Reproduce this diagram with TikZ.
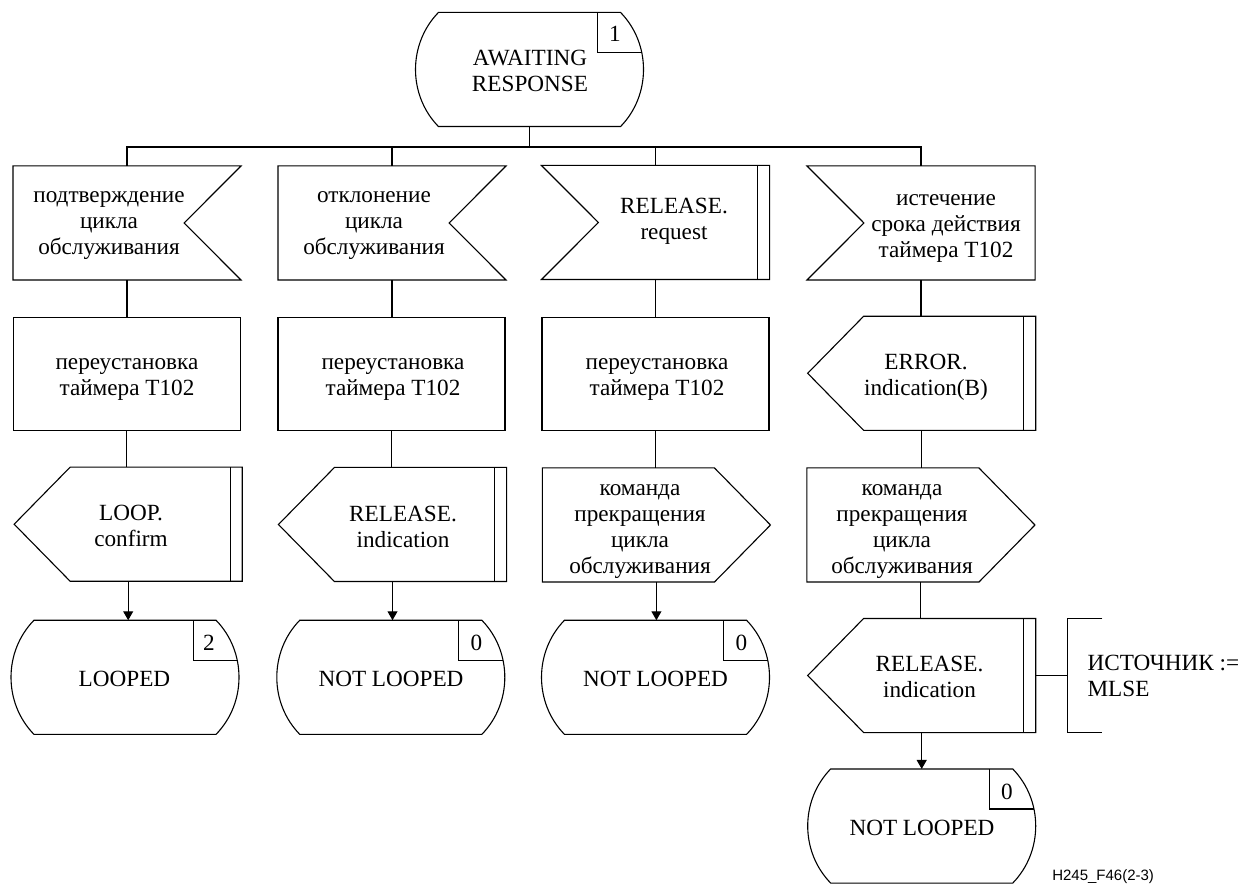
\documentclass[tikz,border=0pt]{standalone}
\usepackage{fontspec}
\setmainfont{Liberation Serif}
\newfontfamily\footfont{Liberation Sans}
\usetikzlibrary{calc,arrows.meta}
\newcommand\StateOutline[1]{%
  \draw ($(#1.north west)+(23,0)$) -- ($(#1.north east)+(-23,0)$)
    .. controls ($(#1.north east)+(7.6,31.4)$) and ($(#1.south east)+(7.6,-31.4)$) .. ($(#1.south east)+(-23,0)$)
    -- ($(#1.south west)+(23,0)$)
    .. controls ($(#1.south west)+(-7.6,-31.4)$) and ($(#1.north west)+(-7.6,31.4)$) .. ($(#1.north west)+(23,0)$) -- cycle;
  \draw ($(#1.north east)+(-46,0)$) -- ($(#1.north east)+(-46,40)$) -- ($(#1.north east)+(-1.7,40)$);}
\newcommand\InRight[1]{\draw (#1.north west) -- (#1.north east) -- ($(#1.east)+(-57,0)$) -- (#1.south east) -- (#1.south west) -- cycle;}
\newcommand\InLeft[1]{\draw (#1.north west) -- (#1.north east) -- (#1.south east) -- (#1.south west) -- ($(#1.west)+(57,0)$) -- cycle;}
\newcommand\OutLeft[1]{\draw ($(#1.north west)+(56,0)$) -- (#1.north east) -- (#1.south east) -- ($(#1.south west)+(56,0)$) -- (#1.west) -- cycle;}
\newcommand\OutRight[1]{\draw (#1.north west) -- ($(#1.north east)+(-56,0)$) -- (#1.east) -- ($(#1.south east)+(-56,0)$) -- (#1.south west) -- cycle;}
\newcommand\SideBar[1]{\draw ($(#1.north east)+(-12,0)$) -- ($(#1.south east)+(-12,0)$);}
\begin{document}
\begin{tikzpicture}[x=0.5pt,y=-0.5pt,line width=0.55pt,
  font=\fontsize{11.6pt}{13pt}\selectfont,
  shp/.style={draw=none,inner sep=0pt,minimum width=113.5pt,minimum height=56.5pt},
  txt/.style={align=center,inner sep=0pt},
  num/.style={inner sep=0pt},
  arr/.style={-{Triangle[length=4.5pt,width=5pt]}}]
\useasboundingbox (0,0) rectangle (1246,886);
\coordinate (bus) at (0,147);
% top state
\node[shp] (S0) at (529.5,69.5) {};
\StateOutline{S0}
\node[txt] (S0t) at (530,70.5) {AWAITING\\RESPONSE};
\node[num] (S0n) at (615,33.5) {1};
% row 1: inputs
\node[shp] (A1) at (127,223) {};
\InRight{A1}
\node[txt] (A1t) at (109,226) {подтверждение\\цикла\\обслуживания};
\node[shp] (A2) at (392,223) {};
\InRight{A2}
\node[txt] (A2t) at (374,226) {отклонение\\цикла\\обслуживания};
\node[shp] (A3) at (655.5,222.5) {};
\InLeft{A3}\SideBar{A3}
\node[txt] (A3t) at (674,221) {RELEASE.\\request};
\node[shp] (A4) at (921,223) {};
\InLeft{A4}
\node[txt] (A4t) at (946,229) {истечение\\срока действия\\таймера Т102};
% row 2
\node[shp,draw] (B1) at (126.7,374) {};
\node[txt] (B1t) at (127,380) {переустановка\\таймера Т102};
\node[shp,draw] (B2) at (391.5,374) {};
\node[txt] (B2t) at (393,380) {переустановка\\таймера Т102};
\node[shp,draw] (B3) at (655.5,374) {};
\node[txt] (B3t) at (657,380) {переустановка\\таймера Т102};
\node[shp] (B4) at (921.7,373.3) {};
\OutLeft{B4}\SideBar{B4}
\node[txt] (B4t) at (926,377) {ERROR.\\indication(B)};
% row 3
\node[shp] (C1) at (128.2,524.2) {};
\OutLeft{C1}\SideBar{C1}
\node[txt] (C1t) at (131,526) {LOOP.\\confirm};
\node[shp] (C2) at (392.5,524.5) {};
\OutLeft{C2}\SideBar{C2}
\node[txt] (C2t) at (403,527) {RELEASE.\\indication};
\node[shp] (C3) at (656.4,525) {};
\OutRight{C3}
\node[txt] (C3t) at (640,532) {команда\\прекращения\\цикла\\обслуживания};
\node[shp] (C4) at (920.9,525) {};
\OutRight{C4}
\node[txt] (C4t) at (902,532) {команда\\прекращения\\цикла\\обслуживания};
% row 4
\node[shp] (D1) at (125,677.3) {};
\StateOutline{D1}
\node[txt] (D1t) at (124.5,678.5) {LOOPED};
\node[num] (D1n) at (209,642.5) {2};
\node[shp] (D2) at (390.8,677.3) {};
\StateOutline{D2}
\node[txt] (D2t) at (391,678.5) {NOT LOOPED};
\node[num] (D2n) at (476.5,642.5) {0};
\node[shp] (D3) at (655.5,677.3) {};
\StateOutline{D3}
\node[txt] (D3t) at (655.5,678.5) {NOT LOOPED};
\node[num] (D3n) at (741.5,642.5) {0};
\node[shp] (D4) at (921.7,675.5) {};
\OutLeft{D4}\SideBar{D4}
\node[txt] (D4t) at (929.5,676.5) {RELEASE.\\indication};
% comment
\node[draw=none,inner sep=0pt,minimum width=16.7pt,minimum height=56.2pt] (cmt) at (1085,675.5) {};
\draw (cmt.north east) -- (cmt.north west) -- (cmt.south west) -- (cmt.south east);
\node[txt,align=left,anchor=north west] (cmtt) at (1087,654.5) {ИСТОЧНИК :=\\MLSE};
% row 5
\node[shp] (E4) at (921.7,826) {};
\StateOutline{E4}
\node[txt] (E4t) at (922,827.5) {NOT LOOPED};
\node[num] (E4n) at (1007,791.5) {0};
% connectors
\draw (S0.south) -- (S0.south |- bus);
\draw (A1.north) -- (A1.north |- bus) -- (A4.north |- bus) -- (A4.north);
\draw (A2.north) -- (A2.north |- bus);
\draw (A3.north) -- (A3.north |- bus);
\draw (A1.south) -- (A1.south |- B1.north);
\draw (A2.south) -- (A2.south |- B2.north);
\draw (A3.south) -- (A3.south |- B3.north);
\draw (A4.south) -- (A4.south |- B4.north);
\draw (B1.south) -- (B1.south |- C1.north);
\draw (B2.south) -- (B2.south |- C2.north);
\draw (B3.south) -- (B3.south |- C3.north);
\draw (B4.south) -- (B4.south |- C4.north);
\draw[arr] (C1.south) -- (C1.south |- D1.north);
\draw[arr] (C2.south) -- (C2.south |- D2.north);
\draw[arr] (C3.south) -- (C3.south |- D3.north);
\draw (C4.south) -- (C4.south |- D4.north);
\draw[arr] (D4.south) -- (D4.south |- E4.north);
\draw (D4.east) -- (D4.east -| cmt.west);
% figure id
\node[anchor=base west,inner sep=0pt,font=\footfont\fontsize{7.5pt}{9pt}\selectfont] (fid) at (1051.7,880.7) {H245\_F46(2-3)};
\end{tikzpicture}
\end{document}
